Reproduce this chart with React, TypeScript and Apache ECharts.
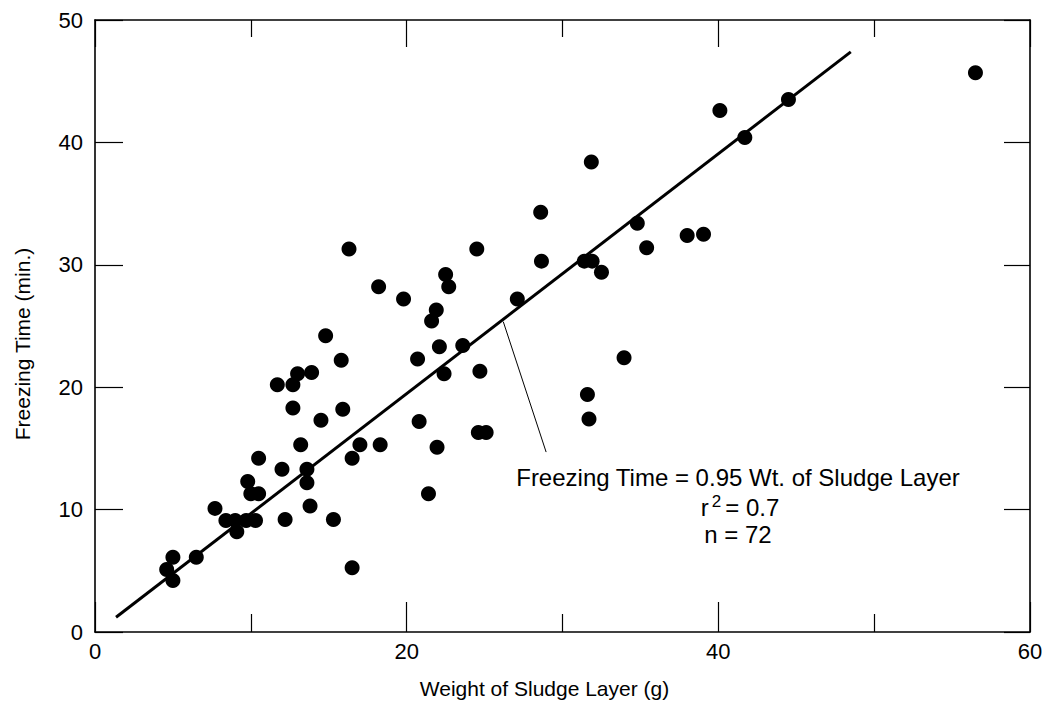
import React, { useEffect, useRef } from "react";
import * as echarts from "echarts";

// Observed points: weight of sludge layer (g) and freezing time (min.)
const weight: number[] = [
  4.6, 5.0, 5.0, 6.5, 7.7, 8.4, 9.0, 9.1, 9.7, 10.3,
  12.2, 9.8, 10.0, 10.5, 10.5, 12.0, 11.7, 12.7, 12.7, 13.0,
  13.9, 13.2, 13.6, 13.6, 13.8, 14.5, 14.8, 15.8, 15.9, 15.3,
  16.3, 16.5, 17.0, 16.5, 18.2, 18.3, 19.8, 20.7, 20.8, 21.4,
  21.6, 21.9, 21.95, 22.1, 22.4, 22.5, 22.7, 23.6, 24.5, 24.7,
  24.6, 25.1, 27.1, 28.6, 28.65, 31.4, 31.9, 31.85, 32.5, 31.6,
  31.7, 33.95, 34.8, 35.4, 38.0, 39.05, 40.1, 41.7, 44.5, 56.5,
];
const freezeTime: number[] = [
  5.1, 6.1, 4.2, 6.1, 10.1, 9.1, 9.1, 8.2, 9.1, 9.1,
  9.2, 12.3, 11.3, 11.3, 14.2, 13.3, 20.2, 20.2, 18.3, 21.1,
  21.2, 15.3, 13.3, 12.2, 10.3, 17.3, 24.2, 22.2, 18.2, 9.2,
  31.3, 14.2, 15.3, 5.25, 28.2, 15.3, 27.2, 22.3, 17.2, 11.3,
  25.4, 26.3, 15.1, 23.3, 21.1, 29.2, 28.2, 23.4, 31.3, 21.3,
  16.3, 16.3, 27.2, 34.3, 30.3, 30.3, 30.3, 38.4, 29.4, 19.4,
  17.4, 22.4, 33.4, 31.4, 32.4, 32.5, 42.6, 40.4, 43.5, 45.7,
];

// Fitted line end points
const fitX: number[] = [1.35, 48.5];
const fitY: number[] = [1.2, 47.4];

// Leader line from the fit to the annotation
const leaderX: number[] = [26.2, 28.95];
const leaderY: number[] = [25.35, 14.7];

const xTicks: number[] = [0, 20, 40, 60];
const yTicks: number[] = [0, 10, 20, 30, 40, 50];

const xTitle = "Weight of Sludge Layer (g)";
const yTitle = "Freezing Time (min.)";
const noteLines: string[] = [
  "Freezing Time = 0.95 Wt. of Sludge Layer",
  "r",
  "2",
  "= 0.7",
  "n = 72",
];

const FONT = "Liberation Sans, Arial, Helvetica, sans-serif";

export default function App() {
  const ref = useRef<HTMLDivElement>(null);

  useEffect(() => {
    if (!ref.current) return;
    const chart = echarts.init(ref.current, null, { renderer: "svg" });

    const points = weight.map((w, i) => [w, freezeTime[i]]);
    const fit = fitX.map((x, i) => [x, fitY[i]]);
    const leader = leaderX.map((x, i) => [x, leaderY[i]]);

    const axisLine = { show: true, onZero: false, lineStyle: { color: "#000", width: 1.6 } };

    chart.setOption({
      animation: false,
      backgroundColor: "#fff",
      textStyle: { fontFamily: FONT, color: "#000" },
      grid: { left: 95, right: 18, top: 20, bottom: 72, containLabel: false },
      xAxis: [
        {
          type: "value",
          min: xTicks[0],
          max: xTicks[xTicks.length - 1],
          interval: 20,
          position: "bottom",
          name: xTitle,
          nameLocation: "middle",
          nameGap: 46,
          nameTextStyle: { fontSize: 21, color: "#000", fontFamily: FONT, padding: [0, 36, 0, 0] },
          axisLine,
          axisTick: { show: true, inside: true, length: 30, lineStyle: { color: "#000", width: 1.2 } },
          minorTick: { show: true, splitNumber: 2, length: 18, lineStyle: { color: "#000", width: 1.2 } },
          axisLabel: { fontSize: 22, color: "#000", margin: 8, fontFamily: FONT },
          splitLine: { show: false },
        },
        {
          type: "value",
          min: xTicks[0],
          max: xTicks[xTicks.length - 1],
          interval: 20,
          position: "top",
          axisLine,
          axisTick: { show: true, inside: true, length: 27, lineStyle: { color: "#000", width: 1.2 } },
          minorTick: { show: true, splitNumber: 2, length: 17, lineStyle: { color: "#000", width: 1.2 } },
          axisLabel: { show: false },
          splitLine: { show: false },
        },
      ],
      yAxis: [
        {
          type: "value",
          min: yTicks[0],
          max: yTicks[yTicks.length - 1],
          interval: 10,
          position: "left",
          name: yTitle,
          nameLocation: "middle",
          nameGap: 62,
          nameTextStyle: { fontSize: 21, color: "#000", fontFamily: FONT, padding: [0, 36, 0, 0] },
          axisLine,
          axisTick: { show: true, inside: true, length: 28, lineStyle: { color: "#000", width: 1.2 } },
          axisLabel: { fontSize: 22, color: "#000", margin: 12, fontFamily: FONT },
          splitLine: { show: false },
        },
        {
          type: "value",
          min: yTicks[0],
          max: yTicks[yTicks.length - 1],
          interval: 10,
          position: "right",
          axisLine,
          axisTick: { show: true, inside: true, length: 26, lineStyle: { color: "#000", width: 1.2 } },
          axisLabel: { show: false },
          splitLine: { show: false },
        },
      ],
      series: [
        {
          type: "line",
          data: fit,
          showSymbol: false,
          symbol: "none",
          lineStyle: { color: "#000", width: 3 },
          silent: true,
          z: 2,
        },
        {
          type: "line",
          data: leader,
          showSymbol: false,
          symbol: "none",
          lineStyle: { color: "#000", width: 1 },
          silent: true,
          z: 2,
        },
        {
          type: "scatter",
          data: points,
          symbol: "circle",
          symbolSize: 15,
          itemStyle: { color: "#000", opacity: 1 },
          z: 3,
        },
      ],
      graphic: [
        {
          type: "text",
          x: 738,
          y: 477,
          style: {
            text: noteLines[0],
            font: `24px ${FONT}`,
            fill: "#000",
            align: "center",
            verticalAlign: "middle",
          },
        },
        {
          type: "text",
          x: 740,
          y: 506,
          style: {
            text: `{a|${noteLines[1]}}{s|${noteLines[2]}}{a|${noteLines[3]}}`,
            align: "center",
            verticalAlign: "middle",
            fill: "#000",
            rich: {
              a: { fontSize: 24, fontFamily: FONT, fill: "#000", verticalAlign: "bottom", lineHeight: 26 },
              s: { fontSize: 17, fontFamily: FONT, fill: "#000", verticalAlign: "top", padding: [0, 4, 10, 3], lineHeight: 26 },
            },
          },
        },
        {
          type: "text",
          x: 738,
          y: 534,
          style: {
            text: noteLines[4],
            font: `24px ${FONT}`,
            fill: "#000",
            align: "center",
            verticalAlign: "middle",
          },
        },
      ],
    });

    return () => chart.dispose();
  }, []);

  return <div ref={ref} style={{ width: 1048, height: 704, position: "absolute", left: 0, top: 0 }} />;
}
